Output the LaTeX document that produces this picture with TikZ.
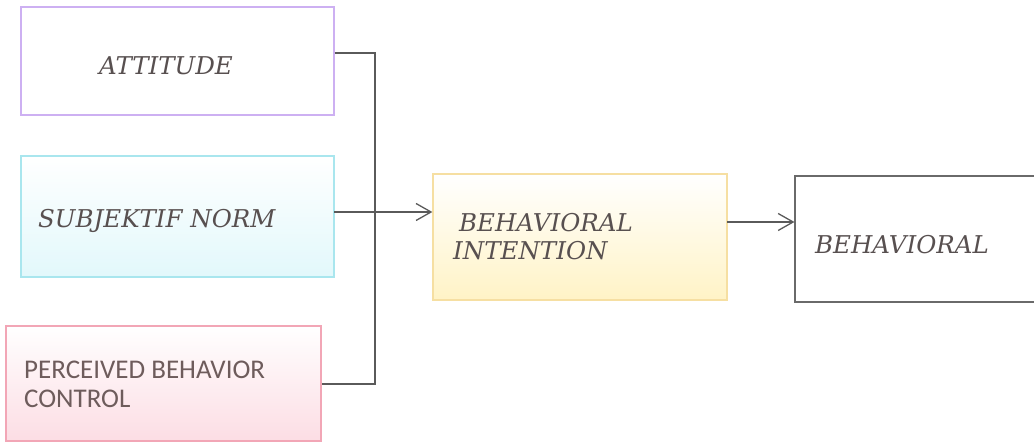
\documentclass[tikz,border=0pt]{standalone}
\usepackage{fontspec}
\newfontfamily\calib{Carlito}
\newfontfamily\dvs{DejaVu Serif}
\usetikzlibrary{arrows.meta}
\definecolor{txt}{HTML}{585050}
\definecolor{ptxt}{HTML}{6E5C5C}
\definecolor{ln}{HTML}{5A5A5A}
\definecolor{attb}{HTML}{CDB0F2}
\definecolor{subb}{HTML}{A9E6EE}
\definecolor{subf}{HTML}{E2F8FB}
\definecolor{perb}{HTML}{F2A6B6}
\definecolor{perf}{HTML}{FCDDE4}
\definecolor{bib}{HTML}{F6DFA2}
\definecolor{bif}{HTML}{FFF3C6}
\definecolor{behb}{HTML}{6A6A6A}
\tikzset{
  x=1pt,y=1pt,
  box/.style={draw, line width=1.3pt, rectangle, inner sep=0pt},
  lbl/.style={text=txt, font=\dvs\fontsize{24.5}{29}\selectfont\itshape, inner sep=0pt, align=left},
  plbl/.style={text=ptxt, font=\calib\fontsize{27}{29}\selectfont, inner sep=0pt, align=left},
  conn/.style={draw=ln, line width=1.4pt},
  arr/.style={conn, -{Straight Barb[length=15pt,width=17pt,line width=1.3pt]}}
}
\begin{document}
\begin{tikzpicture}
\useasboundingbox (0,0) rectangle (1034,443);
% boxes
\node[box, draw=attb, fill=white, minimum width=313, minimum height=108] (att) at (177.5,382) {};
\node[box, draw=subb, top color=white, bottom color=subf, minimum width=313, minimum height=121] (sub) at (177.5,226.5) {};
\node[box, draw=perb, top color=white, bottom color=perf, minimum width=315, minimum height=115] (per) at (163.5,59.5) {};
\node[box, draw=bib, top color=white, bottom color=bif, minimum width=294, minimum height=126] (bi) at (580,206) {};
\node[box, draw=behb, line width=1.1pt, fill=white, minimum width=241, minimum height=126] (beh) at (915.5,204) {};
% texts
\node[lbl] (tatt) at (166,377) {ATTITUDE};
\node[lbl, anchor=west] (tsub) at (38,222) {SUBJEKTIF NORM};
\node[lbl, anchor=west] (tbi1) at (459,220.5) {BEHAVIORAL};
\node[lbl, anchor=west] (tbi2) at (453,192) {INTENTION};
\node[lbl, anchor=west] (tbeh) at (815,198) {BEHAVIORAL};
\node[plbl, anchor=west] (tper1) at (24,73) {PERCEIVED BEHAVIOR};
\node[plbl, anchor=west] (tper2) at (24,44) {CONTROL};
% connectors
\coordinate (j1) at (375,390);
\coordinate (j2) at (375,59);
\coordinate (s1) at (334,231);
\coordinate (b1) at (727,221);
\draw[conn] (att.east |- j1) -- (j1) -- (j2) -- (per.east |- j2);
\draw[arr] (s1) -- (bi.west |- s1);
\draw[arr] (b1) -- (beh.west |- b1);
\end{tikzpicture}
\end{document}
